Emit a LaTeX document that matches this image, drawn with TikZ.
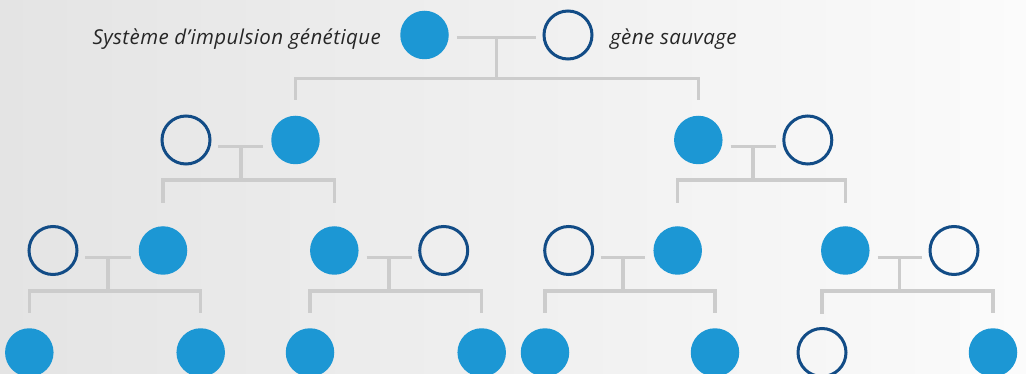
\documentclass[tikz,border=0pt]{standalone}
\usepackage{fontspec}
\setmainfont{Open Sans}[LetterSpace=2]
\usetikzlibrary{calc}
\definecolor{drivec}{RGB}{28,151,212}
\definecolor{wildc}{RGB}{18,76,134}
\definecolor{linkc}{RGB}{204,204,204}
\definecolor{bgleft}{RGB}{228,228,228}
\definecolor{bgright}{RGB}{251,251,251}
\begin{document}
\begin{tikzpicture}[x=1pt,y=-1pt, line join=miter,
	drive/.style={circle, fill=drivec, minimum size=48.5pt, inner sep=0pt, outer sep=0pt},
	wild/.style={circle, draw=wildc, line width=3pt, minimum size=48pt, inner sep=0pt, outer sep=0pt},
	link/.style={draw=linkc, line width=3.5pt},
	lbl/.style={font=\itshape\fontsize{20.5}{24}\selectfont, text=black!85, inner sep=0pt}]
	\shade[left color=bgleft, right color=bgright] (0,0) rectangle (1026,374);
	\useasboundingbox (0,0) rectangle (1026,374);
	% generation 1
	\node[drive] (p1) at (424.5,35) {};
	\node[wild] (p2) at (568,35) {};
	\node[lbl, anchor=base east] (tp1) at (381,44.5) {Système d’impulsion génétique};
	\node[lbl, anchor=base west] (tp2) at (610,44.5) {gène sauvage};
	% generation 2
	\node[wild] (q1) at (186,140) {};
	\node[drive] (q2) at (295.5,140) {};
	\node[drive] (q3) at (698.3,140) {};
	\node[wild] (q4) at (807.8,140) {};
	% generation 3
	\node[wild] (r1) at (53,250.5) {};
	\node[drive] (r2) at (163,250.5) {};
	\node[drive] (r3) at (334.3,250.5) {};
	\node[wild] (r4) at (443.7,250.5) {};
	\node[wild] (r5) at (568.7,250.5) {};
	\node[drive] (r6) at (677.7,250.5) {};
	\node[drive] (r7) at (845.3,250.5) {};
	\node[wild] (r8) at (954,250.5) {};
	% generation 4
	\node[drive] (s1) at (29.3,352.5) {};
	\node[drive] (s2) at (200.7,352.5) {};
	\node[drive] (s3) at (310,352.5) {};
	\node[drive] (s4) at (481.7,352.5) {};
	\node[drive] (s5) at (545,352.5) {};
	\node[drive] (s6) at (715,352.5) {};
	\node[wild] (s7) at (822,352.5) {};
	\node[drive] (s8) at (993,352.5) {};
	% croisements
	\coordinate (m1) at ($(p1)!0.5!(p2)+(0,2.7)$);
	\coordinate (b1) at ($(m1)+(0,40.6)$);
	\draw[link, shorten <=8pt, shorten >=8pt] (p1.east |- m1) -- (p2.west |- m1);
	\draw[link] (m1) -- (b1);
	\draw[link, shorten >=15.5pt] (b1) -| (q2.north);
	\draw[link, shorten >=15.5pt] (b1) -| (q3.north);
	%
	\coordinate (m2) at ($(q1)!0.5!(q2)+(0,6.7)$);
	\coordinate (b2) at ($(m2)+(0,33.3)$);
	\draw[link, shorten <=8pt, shorten >=8pt] (q1.east |- m2) -- (q2.west |- m2);
	\draw[link] (m2) -- (b2);
	\draw[link, shorten >=23.5pt] (b2) -| (r2.north);
	\draw[link, shorten >=23.5pt] (b2) -| (r3.north);
	%
	\coordinate (m3) at ($(q3)!0.5!(q4)+(0,6.7)$);
	\coordinate (b3) at ($(m3)+(0,33.3)$);
	\draw[link, shorten <=8pt, shorten >=8pt] (q3.east |- m3) -- (q4.west |- m3);
	\draw[link] (m3) -- (b3);
	\draw[link, shorten >=23.5pt] (b3) -| (r6.north);
	\draw[link, shorten >=23.5pt] (b3) -| (r7.north);
	%
	\foreach \a/\b/\c/\d [count=\i] in {r1/r2/s1/s2, r3/r4/s3/s4, r5/r6/s5/s6, r7/r8/s7/s8}{
		\coordinate (n\i) at ($(\a)!0.5!(\b)+(0,6.8)$);
		\coordinate (c\i) at ($(n\i)+(0,33.7)$);
		\draw[link, shorten <=8pt, shorten >=8pt] (\a.east |- n\i) -- (\b.west |- n\i);
		\draw[link] (n\i) -- (c\i);
		\draw[link, shorten >=15pt] (c\i) -| (\c.north);
		\draw[link, shorten >=15pt] (c\i) -| (\d.north);
	}
\end{tikzpicture}
\end{document}
